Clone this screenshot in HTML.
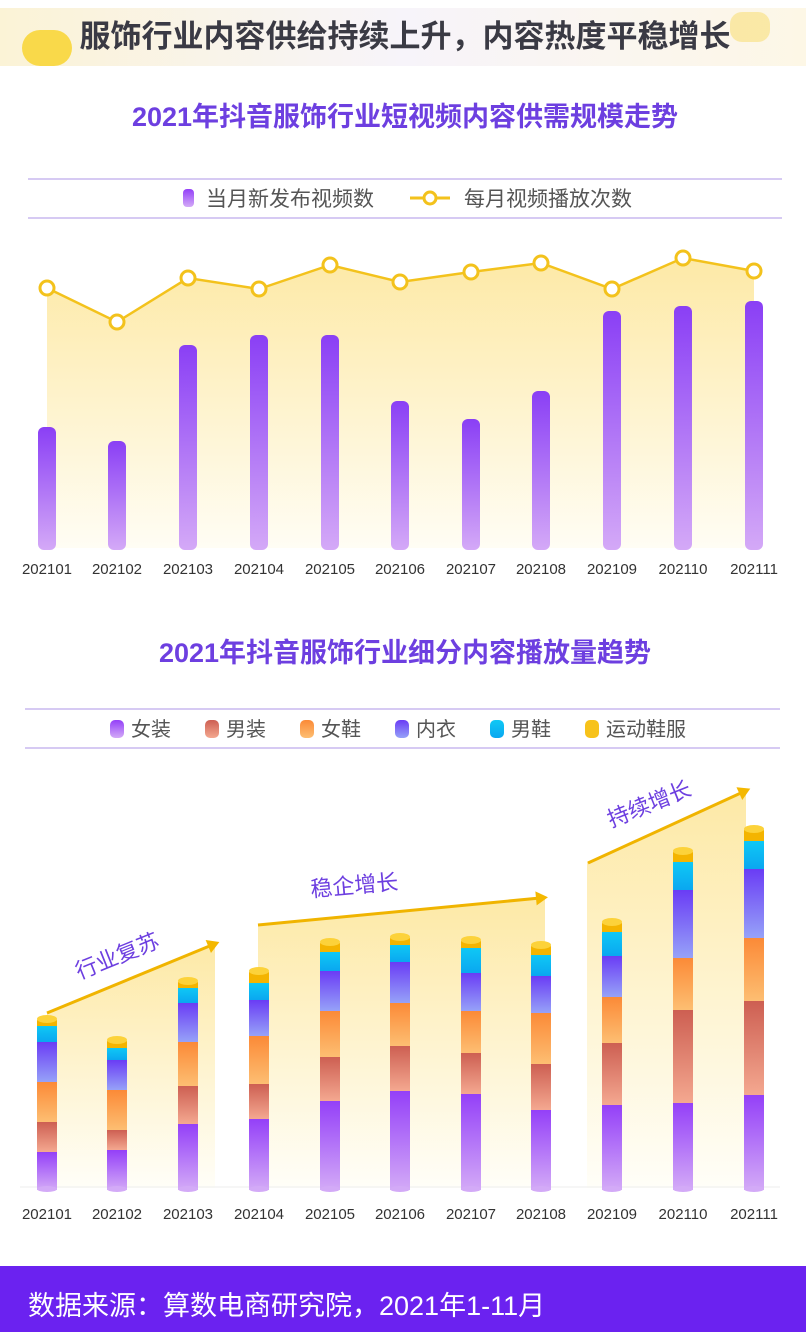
<!DOCTYPE html>
<html><head><meta charset="utf-8">
<style>
html,body{margin:0;padding:0;width:806px;height:1332px;overflow:hidden;background:#fff;font-family:"Liberation Sans","Noto Sans CJK SC",sans-serif;}
svg text{font-family:"Liberation Sans","Noto Sans CJK SC",sans-serif;}
</style></head><body>
<svg id="s" width="806" height="1332" viewBox="0 0 806 1332" xmlns="http://www.w3.org/2000/svg">
<defs>
<linearGradient id="ban" x1="0" y1="0" x2="1" y2="0"><stop offset="0" stop-color="#fbf3d6"/><stop offset="0.5" stop-color="#f7f4fa"/><stop offset="1" stop-color="#fdf7e6"/></linearGradient>
<linearGradient id="pur" x1="0" y1="0" x2="0" y2="1"><stop offset="0" stop-color="#8a3ff5"/><stop offset="1" stop-color="#d4a9f7"/></linearGradient>
<linearGradient id="area" x1="0" y1="0" x2="0" y2="1"><stop offset="0" stop-color="#fde9a6"/><stop offset="1" stop-color="#fffdf4"/></linearGradient>
<linearGradient id="area2" x1="0" y1="0" x2="0" y2="1"><stop offset="0" stop-color="#fde9a6"/><stop offset="1" stop-color="#fffef8"/></linearGradient>
<linearGradient id="gP" x1="0" y1="0" x2="0" y2="1"><stop offset="0" stop-color="#9440f8"/><stop offset="1" stop-color="#d3aaf7"/></linearGradient>
<linearGradient id="gR" x1="0" y1="0" x2="0" y2="1"><stop offset="0" stop-color="#cd5f52"/><stop offset="1" stop-color="#f4a890"/></linearGradient>
<linearGradient id="gO" x1="0" y1="0" x2="0" y2="1"><stop offset="0" stop-color="#fb8a37"/><stop offset="1" stop-color="#fdbe72"/></linearGradient>
<linearGradient id="gB" x1="0" y1="0" x2="0" y2="1"><stop offset="0" stop-color="#6a3cf5"/><stop offset="1" stop-color="#96a2f8"/></linearGradient>
<linearGradient id="gC" x1="0" y1="0" x2="0" y2="1"><stop offset="0" stop-color="#0fc8f5"/><stop offset="1" stop-color="#0aa7f0"/></linearGradient>
</defs>
<rect x="0" y="8" width="806" height="58" fill="url(#ban)"/>
<rect x="22" y="30" width="50" height="36" rx="18" fill="#f9d94a"/>
<rect x="730" y="12" width="40" height="30" rx="12" fill="#f9e07a" opacity="0.6"/>
<text x="405" y="47" text-anchor="middle" font-size="31" font-weight="bold" fill="#3a3a44">服饰行业内容供给持续上升，内容热度平稳增长</text>
<text x="405" y="126" text-anchor="middle" font-size="27" font-weight="bold" fill="#6d3fe0">2021年抖音服饰行业短视频内容供需规模走势</text>
<line x1="28" y1="179" x2="782" y2="179" stroke="#c9b8ef" stroke-width="1.5"/>
<line x1="28" y1="218" x2="782" y2="218" stroke="#c9b8ef" stroke-width="1.5"/>
<rect x="183" y="189" width="11" height="18" rx="4" fill="url(#gP)"/>
<text x="206" y="206" font-size="21" fill="#555">当月新发布视频数</text>
<line x1="410" y1="198" x2="450" y2="198" stroke="#f3c21c" stroke-width="3"/>
<circle cx="430" cy="198" r="6" fill="#fff" stroke="#f3c21c" stroke-width="3"/>
<text x="464" y="206" font-size="21" fill="#555">每月视频播放次数</text>
<g id="topc"></g>
<text x="405" y="662" text-anchor="middle" font-size="27" font-weight="bold" fill="#6d3fe0">2021年抖音服饰行业细分内容播放量趋势</text>
<line x1="25" y1="709" x2="780" y2="709" stroke="#c9b8ef" stroke-width="1.5"/>
<line x1="25" y1="748" x2="780" y2="748" stroke="#c9b8ef" stroke-width="1.5"/>
<g id="leg2"></g>
<g id="bot"></g>
<rect x="0" y="1266" width="806" height="66" fill="#6b22f0"/>
<text x="28" y="1315" font-size="27" fill="#fff">数据来源：算数电商研究院，2021年1-11月</text>
</svg>
<script>
(function(){
var NS="http://www.w3.org/2000/svg";
function el(p,t,a,txt){var e=document.createElementNS(NS,t);for(var k in a)e.setAttribute(k,a[k]);if(txt)e.textContent=txt;p.appendChild(e);return e;}
var xs=[47,117,188,259,330,400,471,541,612,683,754];
var labs=["202101","202102","202103","202104","202105","202106","202107","202108","202109","202110","202111"];
var tc=document.getElementById("topc");
var ly=[288,322,278,289,265,282,272,263,289,258,271];
var d="M"+xs[0]+" 548";xs.forEach(function(x,i){d+=" L"+x+" "+ly[i];});d+=" L"+xs[10]+" 548 Z";
el(tc,"path",{d:d,fill:"url(#area)"});
var bt=[427,441,345,335,335,401,419,391,311,306,301];
xs.forEach(function(x,i){el(tc,"rect",{x:x-9,y:bt[i],width:18,height:550-bt[i],rx:6,fill:"url(#pur)"});});
var pts=xs.map(function(x,i){return x+","+ly[i];}).join(" ");
el(tc,"polyline",{points:pts,fill:"none",stroke:"#f3c21c","stroke-width":2.5});
xs.forEach(function(x,i){el(tc,"circle",{cx:x,cy:ly[i],r:7,fill:"#fff",stroke:"#f3c21c","stroke-width":3});
el(tc,"text",{x:x,y:574,"text-anchor":"middle","font-size":15,fill:"#333"},labs[i]);});
var lg=document.getElementById("leg2");
var items=[["女装","gP",110],["男装","gR",205],["女鞋","gO",300],["内衣","gB",395],["男鞋","gC",490],["运动鞋服","#f7c21a",585]];
items.forEach(function(t){el(lg,"rect",{x:t[2],y:720,width:14,height:18,rx:5,fill:t[1].charAt(0)=="#"?t[1]:"url(#"+t[1]+")"});
el(lg,"text",{x:t[2]+21,y:736,"font-size":20,fill:"#555"},t[0]);});
var b=document.getElementById("bot");
el(b,"polygon",{points:"47,1188 47,1013 215,944 215,1188",fill:"url(#area2)"});
el(b,"polygon",{points:"258,1188 258,925 545,897 545,1188",fill:"url(#area2)"});
el(b,"polygon",{points:"587,1188 587,862 746,790 746,1188",fill:"url(#area2)"});
el(b,"line",{x1:20,y1:1187,x2:780,y2:1187,stroke:"#eee","stroke-width":1});
function arrow(x1,y1,x2,y2){el(b,"line",{x1:x1,y1:y1,x2:x2,y2:y2,stroke:"#f0b400","stroke-width":3});
var a=Math.atan2(y2-y1,x2-x1),w=7;
var px=x2+Math.cos(a)*8,py=y2+Math.sin(a)*8;
var bx=x2-Math.cos(a)*4,by=y2-Math.sin(a)*4;
el(b,"polygon",{points:px+","+py+" "+(bx-Math.sin(a)*w)+","+(by+Math.cos(a)*w)+" "+(bx+Math.sin(a)*w)+","+(by-Math.cos(a)*w),fill:"#f4b800"});}
arrow(47,1013,212,945);arrow(258,925,540,898);arrow(588,863,743,792);
el(b,"text",{x:120,y:963,"text-anchor":"middle","font-size":22,fill:"#6d3fe0",transform:"rotate(-22 120 963)"},"行业复苏");
el(b,"text",{x:355,y:893,"text-anchor":"middle","font-size":22,fill:"#6d3fe0",transform:"rotate(-5 355 893)"},"稳企增长");
el(b,"text",{x:652,y:811,"text-anchor":"middle","font-size":22,fill:"#6d3fe0",transform:"rotate(-22 652 811)"},"持续增长");
var S=[[1017,1026,1042,1082,1122,1152],[1038,1048,1060,1090,1130,1150],[979,988,1003,1042,1086,1124],[969,983,1000,1036,1084,1119],[940,952,971,1011,1057,1101],[935,945,962,1003,1046,1091],[938,948,973,1011,1053,1094],[943,955,976,1013,1064,1110],[920,932,956,997,1043,1105],[849,862,890,958,1010,1103],[827,841,869,938,1001,1095]];
var fills=["url(#gC)","url(#gB)","url(#gO)","url(#gR)","url(#gP)"];
xs.forEach(function(x,i){var s=S[i],w=20;
el(b,"rect",{x:x-10,y:s[0]+4,width:w,height:s[1]-s[0]-4,fill:"#f4b400"});
for(var k=0;k<5;k++){var ya=s[k+1],yb=(k==4?1190:s[k+2]);
el(b,"rect",{x:x-10,y:ya,width:w,height:yb-ya,fill:fills[k]});}
el(b,"ellipse",{cx:x,cy:1189,rx:10,ry:3,fill:"#d3aaf7"});
el(b,"ellipse",{cx:x,cy:s[0]+4,rx:10,ry:5,fill:"#f4b400"});
el(b,"ellipse",{cx:x,cy:s[0]+2,rx:10,ry:4,fill:"#fcd23a"});
el(b,"text",{x:x,y:1219,"text-anchor":"middle","font-size":15,fill:"#333"},labs[i]);});
})();
</script>
</body></html>
